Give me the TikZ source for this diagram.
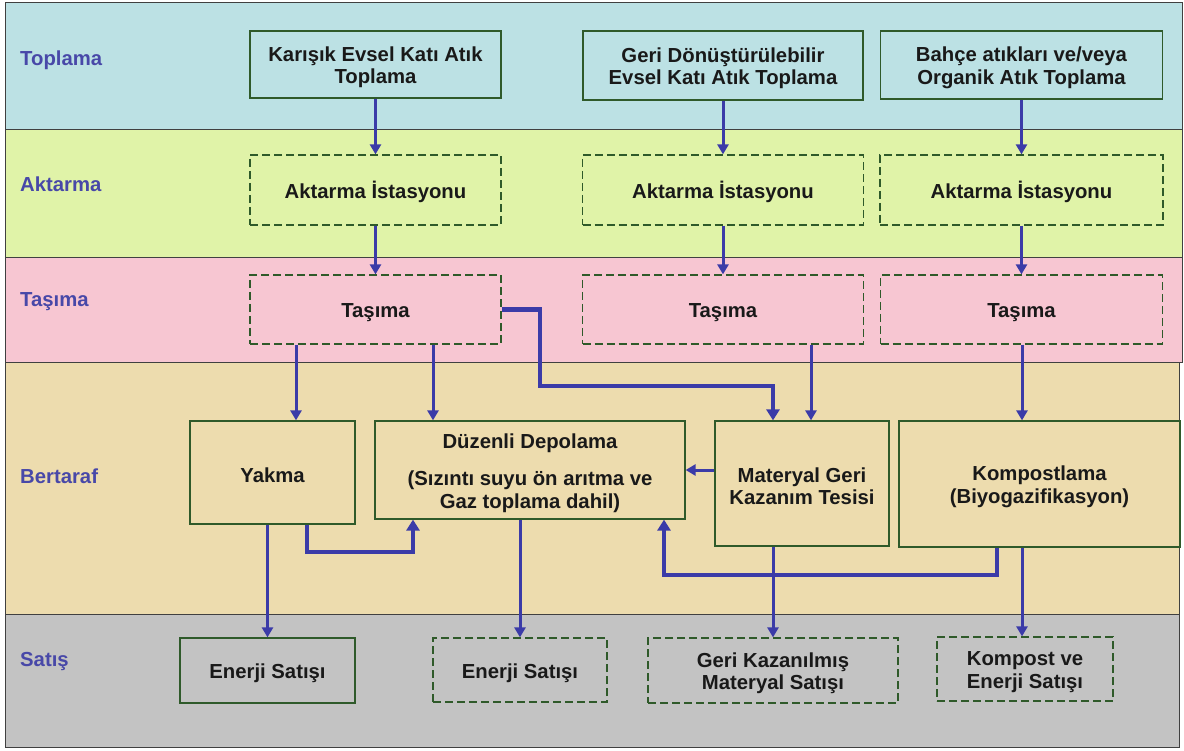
\documentclass[tikz,border=0pt]{standalone}
\usepackage{fontspec}
\setmainfont{Liberation Sans}
\usetikzlibrary{arrows.meta}
\definecolor{bandA}{HTML}{BCE1E4}
\definecolor{bandB}{HTML}{E0F3A8}
\definecolor{bandC}{HTML}{F7C6D2}
\definecolor{bandD}{HTML}{EDDCAE}
\definecolor{bandE}{HTML}{C3C3C3}
\definecolor{boxline}{HTML}{2F5A2A}
\definecolor{flow}{HTML}{3B3BA8}
\definecolor{stagecol}{HTML}{4848A8}
% strut on the first text line so that the text sits a little lower in its box
\newcommand\boxstrut{\rule{0pt}{20.5pt}}

\begin{document}
\begin{tikzpicture}[x=1pt,y=-1pt,
  band/.style={draw=black!75, line width=0.9pt},
  stepbox/.style={draw=boxline, line width=1.2pt, inner sep=0pt, align=center,
    font=\fontsize{20.3}{22.5}\selectfont\bfseries, text=black!90},
  dashbox/.style={stepbox, dash pattern=on 8pt off 4pt},
  stage/.style={anchor=west, text=stagecol, inner sep=0pt,
    font=\fontsize{20.3}{22.5}\selectfont\bfseries},
  arr/.style={draw=flow, line width=3pt, -{Triangle[width=11pt,length=10pt]}},
  thickarr/.style={arr, line width=4.5pt, -{Triangle[width=13pt,length=11pt]}},
]
\useasboundingbox (0,0) rectangle (1184,751);
\fill[white] (0,0) rectangle (1184,751);

% stage bands
\draw[band, fill=bandA] (5,2) rectangle (1182,129);
\draw[band, fill=bandB] (5,129) rectangle (1182,257);
\draw[band, fill=bandC] (5,257) rectangle (1182,362);
\draw[band, fill=bandD] (5,362) rectangle (1179,614);
\draw[band, fill=bandE] (5,614) rectangle (1179,747);

% stage labels
\node[stage] (sTop) at (20,60) {Toplama};
\node[stage] (sAkt) at (20,184) {Aktarma};
\node[stage] (sTas) at (20,302) {Taşıma};
\node[stage] (sBer) at (20,476) {Bertaraf};
\node[stage] (sSat) at (20,662) {Satış};

% collection
\node[stepbox, minimum width=251pt, minimum height=67pt] (kar) at (375.5,64.5) {\boxstrut Karışık Evsel Katı Atık\\Toplama};
\node[stepbox, minimum width=280pt, minimum height=69pt] (geri) at (723,65.5) {\boxstrut Geri Dönüştürülebilir\\Evsel Katı Atık Toplama};
\node[stepbox, minimum width=282pt, minimum height=68pt] (bah) at (1021.5,65) {\boxstrut Bahçe atıkları ve/veya\\Organik Atık Toplama};

% transfer
\node[dashbox, minimum width=251pt, minimum height=70pt] (akt1) at (375.5,190) {\boxstrut Aktarma İstasyonu};
\node[dashbox, minimum width=281pt, minimum height=70pt] (akt2) at (723,190) {\boxstrut Aktarma İstasyonu};
\node[dashbox, minimum width=283pt, minimum height=70pt] (akt3) at (1021.5,190) {\boxstrut Aktarma İstasyonu};

% transport
\node[dashbox, minimum width=251pt, minimum height=69pt] (tas1) at (375.5,309.5) {\boxstrut Taşıma};
\node[dashbox, minimum width=281pt, minimum height=69pt] (tas2) at (723,309.5) {\boxstrut Taşıma};
\node[dashbox, minimum width=282pt, minimum height=69pt] (tas3) at (1021.5,309.5) {\boxstrut Taşıma};

% disposal
\node[stepbox, minimum width=165pt, minimum height=103pt] (yak) at (272.5,472.5) {\boxstrut Yakma};
\node[stepbox, minimum width=310pt, minimum height=98pt] (duz) at (530,470) {\boxstrut Düzenli Depolama\\[15pt](Sızıntı suyu ön arıtma ve\\Gaz toplama dahil)};
\node[stepbox, minimum width=174pt, minimum height=125pt] (mat) at (802,483.5) {\boxstrut Materyal Geri\\Kazanım Tesisi};
\node[stepbox, minimum width=281pt, minimum height=126pt] (kom) at (1039.5,484) {\boxstrut Kompostlama\\(Biyogazifikasyon)};

% sales
\node[stepbox, minimum width=175pt, minimum height=65pt] (en1) at (267.5,670.5) {\boxstrut Enerji Satışı};
\node[dashbox, minimum width=174pt, minimum height=64pt] (en2) at (520,670) {\boxstrut Enerji Satışı};
\node[dashbox, minimum width=250pt, minimum height=65pt] (gk) at (773,670.5) {\boxstrut Geri Kazanılmış\\Materyal Satışı};
\node[dashbox, minimum width=176pt, minimum height=64pt] (kv) at (1025,669) {\boxstrut Kompost ve\\Enerji Satışı};

% connector guide points
\coordinate (xYak) at (296,0);
\coordinate (xDuz) at (433,0);
\coordinate (xMatA) at (773,0);
\coordinate (xMatB) at (811,0);
\coordinate (xKom) at (1022,0);
\coordinate (xYakOut) at (307,0);
\coordinate (xKomOut) at (997,0);
\coordinate (bendT) at (540,386);
\coordinate (bendY) at (413,552);
\coordinate (bendK) at (664,575);

% flows
\draw[arr] (kar) -- (akt1);
\draw[arr] (geri) -- (akt2);
\draw[arr] (bah) -- (akt3);
\draw[arr] (akt1) -- (tas1);
\draw[arr] (akt2) -- (tas2);
\draw[arr] (akt3) -- (tas3);

\draw[arr] (tas1.south -| xYak) -- (yak.north -| xYak);
\draw[arr] (tas1.south -| xDuz) -- (duz.north -| xDuz);
\draw[thickarr] (tas1.east) -| (bendT) -| (mat.north -| xMatA);
\draw[arr] (tas2.south -| xMatB) -- (mat.north -| xMatB);
\draw[arr] (tas3.south -| xKom) -- (kom.north -| xKom);

\draw[arr] (mat.west |- duz.east) -- (duz.east);
\draw[thickarr] (yak.south -| xYakOut) |- (bendY) -- (duz.south -| bendY);
\draw[thickarr] (kom.south -| xKomOut) |- (bendK) -- (duz.south -| bendK);

\draw[arr] (yak.south -| en1.north) -- (en1.north);
\draw[arr] (duz.south -| en2.north) -- (en2.north);
\draw[arr] (mat.south -| gk.north) -- (gk.north);
\draw[arr] (kom.south -| xKom) -- (kv.north -| xKom);
\end{tikzpicture}
\end{document}
